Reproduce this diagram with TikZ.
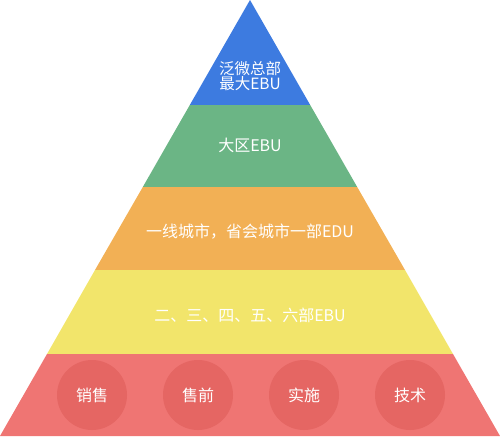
\documentclass[tikz,border=0pt]{standalone}
\usepackage{fontspec}
\setmainfont{Noto Sans CJK SC}
\definecolor{cblue}{HTML}{3D7BE0}
\definecolor{cgreen}{HTML}{6BB585}
\definecolor{corange}{HTML}{F2B055}
\definecolor{cyellow}{HTML}{F2E56B}
\definecolor{cred}{HTML}{EF7573}
\definecolor{ccirc}{HTML}{E56663}
\begin{document}
\begin{tikzpicture}[x=1pt,y=-1pt,
  lbl/.style={text=white,font=\fontsize{16}{16}\selectfont,align=center,inner sep=0pt},
  circ/.style={circle,fill=ccirc,minimum size=70pt,inner sep=0pt,text=white,font=\fontsize{16}{16}\selectfont}]
\useasboundingbox (0,0) rectangle (500,436);
% x at y: 250 - 250*y/436 and 250 + 250*y/436
\fill[cblue] (250,0) -- (310.2,105) -- (189.8,105) -- cycle;
\fill[cgreen] (189.8,105) -- (310.2,105) -- (357.2,187) -- (142.8,187) -- cycle;
\fill[corange] (142.8,187) -- (357.2,187) -- (405.0,270) -- (95.0,270) -- cycle;
\fill[cyellow] (95.0,270) -- (405.0,270) -- (453.0,354) -- (47.0,354) -- cycle;
\fill[cred] (47.0,354) -- (453.0,354) -- (500,436) -- (0,436) -- cycle;
\node[lbl,font=\fontsize{15.5}{15}\selectfont] (t1) at (250,76) {泛微总部\\最大EBU};
\node[lbl] (t2) at (250,145) {大区EBU};
\node[lbl] (t3) at (250,232) {一线城市，省会城市一部EDU};
\node[lbl] (t4) at (250,315) {二、三、四、五、六部EBU};
\node[circ] (c1) at (92,395) {销售};
\node[circ] (c2) at (198,395) {售前};
\node[circ] (c3) at (304,395) {实施};
\node[circ] (c4) at (410,395) {技术};
\end{tikzpicture}
\end{document}
